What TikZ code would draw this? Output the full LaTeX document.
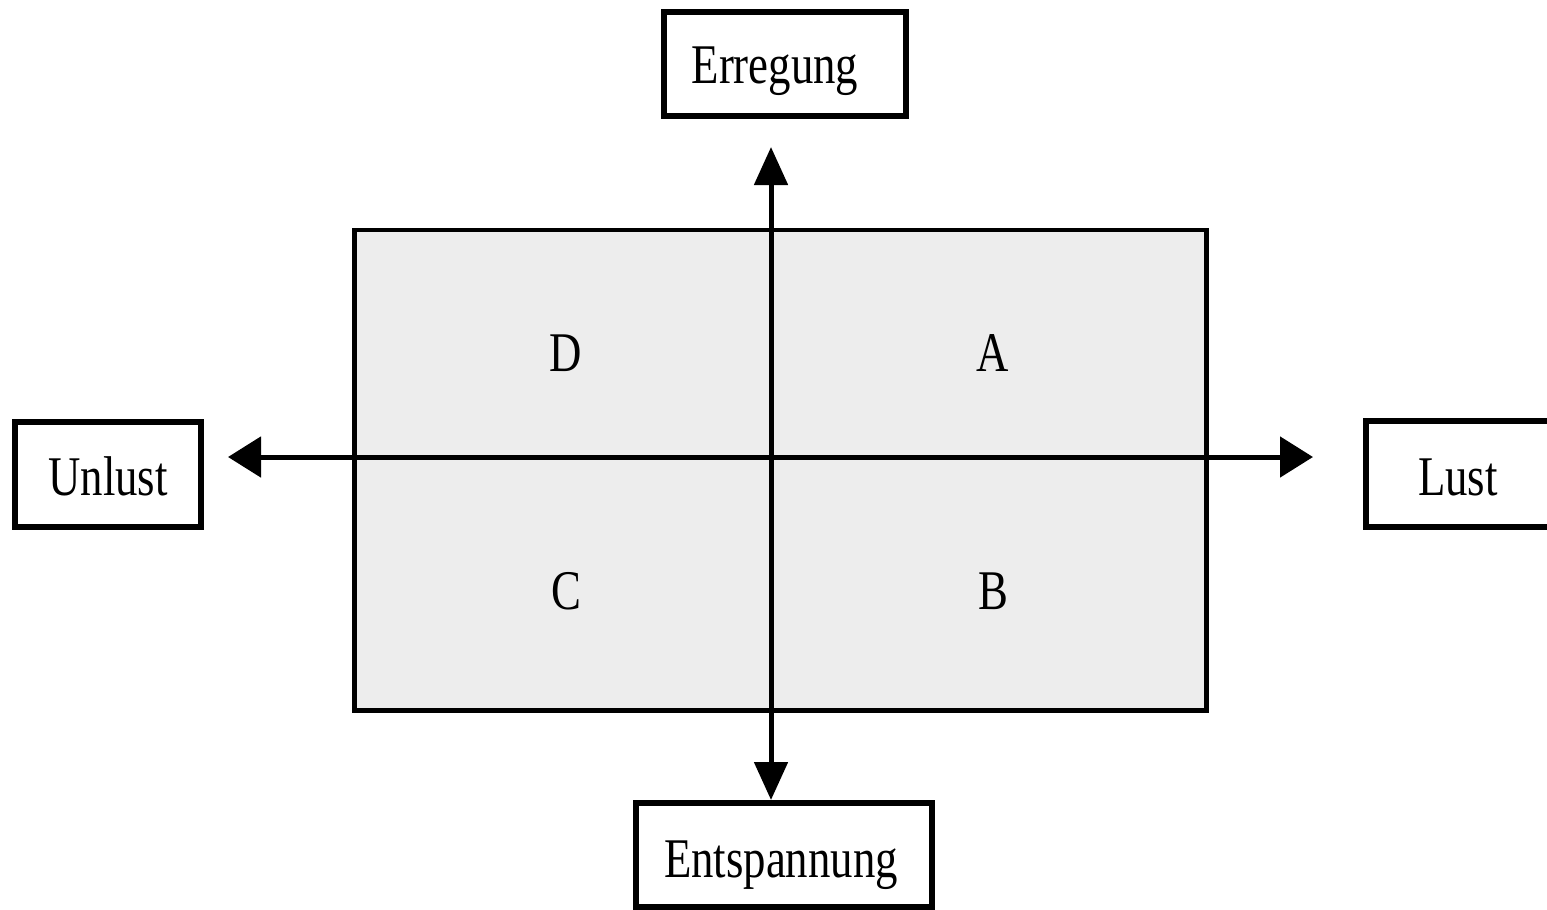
\documentclass[tikz,border=0pt]{standalone}
\usepackage{fontspec}
\setmainfont{Liberation Serif}[FakeStretch=0.8]
\usetikzlibrary{arrows.meta}
\definecolor{fieldgray}{RGB}{237,237,237}
\begin{document}
\begin{tikzpicture}[x=1pt,y=-1pt,
  every node/.style={inner sep=0pt, outer sep=0pt},
  labelbox/.style={draw=black, line width=6pt, fill=white, rectangle},
  labeltext/.style={anchor=base, font=\fontsize{56}{60}\selectfont},
  quadrant/.style={font=\fontsize{56}{60}\selectfont},
  field/.style={draw=black, line width=4.5pt, fill=fieldgray, rectangle},
  vaxis/.style={line width=5pt, -{Triangle[length=38pt,width=33pt]}},
  haxis/.style={line width=5pt, -{Triangle[length=33pt,width=40pt]}}
]
\path[use as bounding box] (0,0) rectangle (1547,910);

% shaded field with its four quadrants
\node[field, minimum width=852pt, minimum height=480.5pt] (field) at (780.5,470.25) {};
\node[quadrant] (qD) at (566,353) {D};
\node[quadrant] (qA) at (993,353) {A};
\node[quadrant] (qC) at (566,591) {C};
\node[quadrant] (qB) at (993,591) {B};

% pole boxes
\node[labelbox, minimum width=242pt, minimum height=104pt] (erregung) at (785,64) {};
\node[labelbox, minimum width=186pt, minimum height=105pt] (unlust) at (108,474.5) {};
\node[labelbox, minimum width=234pt, minimum height=106pt] (lust) at (1483,474) {};
\node[labelbox, minimum width=296pt, minimum height=104pt] (entspannung) at (784,855) {};

\node[labeltext] (terregung) at (775,83) {Erregung};
\node[labeltext] (tunlust) at (108,495) {Unlust};
\node[labeltext] (tlust) at (1458,495) {Lust};
\node[labeltext] (tentspannung) at (781,877) {Entspannung};

% axes
\coordinate (origin) at (771,457);
\draw[vaxis, shorten >=31pt] (origin) -- (origin |- erregung.south);
\draw[vaxis, shorten >=3pt] (origin) -- (origin |- entspannung.north);
\draw[haxis, shorten >=27pt] (origin) -- (origin -| unlust.east);
\draw[haxis, shorten >=53pt] (origin) -- (origin -| lust.west);
\end{tikzpicture}
\end{document}
